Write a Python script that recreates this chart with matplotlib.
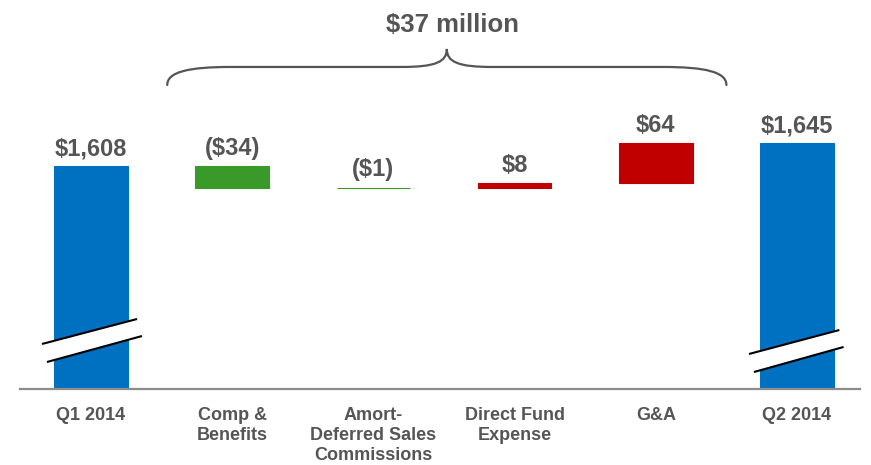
import matplotlib
matplotlib.use("Agg")
import matplotlib.pyplot as plt
from matplotlib.path import Path
from matplotlib.patches import PathPatch, Polygon

# ---- data ----
categories = ["Q1 2014", "Comp &\nBenefits", "Amort-\nDeferred Sales\nCommissions",
              "Direct Fund\nExpense", "G&A", "Q2 2014"]
start_total = 1608
changes = [-34, -1, 8, 64]
end_total = 1645
value_labels = ["$1,608", "($34)", "($1)", "$8", "$64", "$1,645"]
bracket_label = "$37 million"

BLUE = "#0070C0"
GREEN = "#3A9A29"
RED = "#C00000"
GRAY = "#555555"

plt.rcParams['font.family'] = ['Liberation Sans', 'DejaVu Sans']

fig = plt.figure(figsize=(8.71, 4.65), dpi=100)
ax = fig.add_axes([0, 76/465, 1, 389/465])
y0 = 1250
ax.set_ylim(y0, y0 + 389/0.6217)
ax.set_xlim(-91/141.2, (871-91)/141.2)
for s in ax.spines.values():
    s.set_visible(False)
ax.set_yticks([])

bw = 0.52
bottoms, heights, colors = [], [], []
bottoms.append(y0); heights.append(start_total - y0); colors.append(BLUE)
level = start_total
for c in changes:
    new = level + c
    bottoms.append(min(level, new)); heights.append(abs(c))
    colors.append(GREEN if c < 0 else RED)
    level = new
bottoms.append(y0); heights.append(end_total - y0); colors.append(BLUE)

xs = list(range(len(categories)))
ax.bar(xs, heights, bottom=bottoms, width=bw, color=colors, edgecolor=colors,
       linewidth=0.8, zorder=2)

for x, b, h, lab in zip(xs, bottoms, heights, value_labels):
    ax.annotate(lab, (x, b + h), xytext=(0, 8), textcoords="offset points",
                ha="center", va="baseline", fontsize=17, fontweight="bold",
                color=GRAY)

# baseline
ax.axhline(y0, xmin=20/871, xmax=860/871, color="#8C8C8C", lw=1.6,
           clip_on=False, zorder=3)

ax.set_xticks(xs, categories)
ax.tick_params(axis="x", length=0, pad=13)
for t in ax.get_xticklabels():
    t.set_fontsize(13)
    t.set_fontweight("bold")
    t.set_color(GRAY)
    t.set_linespacing(1.22)
    t.set_verticalalignment("top")

# break marks
def brk(xc, up, lo):
    (ux0, uy0, ux1, uy1), (lx0, ly0, lx1, ly1) = up, lo
    poly = Polygon([(xc+ux0, uy0), (xc+ux1, uy1), (xc+lx1, ly1), (xc+lx0, ly0)],
                   closed=True, facecolor="white", edgecolor="none", zorder=4)
    ax.add_patch(poly)
    ax.plot([xc+ux0, xc+ux1], [uy0, uy1], color="black", lw=1.5, zorder=5,
            solid_capstyle="butt")
    ax.plot([xc+lx0, xc+lx1], [ly0, ly1], color="black", lw=1.5, zorder=5,
            solid_capstyle="butt")

brk(0, (-0.347, 1322.4, 0.326, 1362.6), (-0.312, 1293.4, 0.361, 1335.2))
brk(5, (-0.34, 1306.3, 0.30, 1344.9), (-0.305, 1277.3, 0.33, 1317.6))

# brace
xl, xr = 0.54, 4.50
xm = (xl + xr) / 2
ye, yf, yp = 1739, 1768, 1797
verts = [(xl, ye), (xl, 1760), (xl + 0.15, yf), (xl + 0.45, yf),
         (xm - 0.32, yf),
         (xm - 0.08, yf), (xm, 1776), (xm, yp),
         (xm, 1776), (xm + 0.08, yf), (xm + 0.32, yf),
         (xr - 0.45, yf),
         (xr - 0.15, yf), (xr, 1760), (xr, ye)]
codes = [Path.MOVETO, Path.CURVE4, Path.CURVE4, Path.CURVE4,
         Path.LINETO,
         Path.CURVE4, Path.CURVE4, Path.CURVE4,
         Path.CURVE4, Path.CURVE4, Path.CURVE4,
         Path.LINETO,
         Path.CURVE4, Path.CURVE4, Path.CURVE4]
ax.add_patch(PathPatch(Path(verts, codes), facecolor="none", edgecolor=GRAY,
                       lw=1.6, capstyle="round"))
ax.text(xm + 0.04, 1825, bracket_label, ha="center", va="baseline",
        fontsize=18.5, fontweight="bold", color=GRAY)

fig.savefig("out.png", dpi=100)
